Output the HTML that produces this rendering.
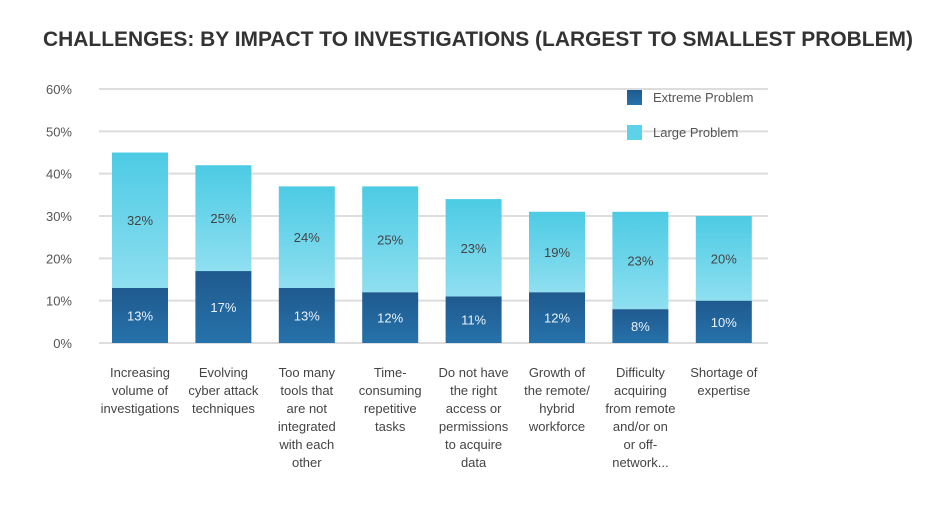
<!DOCTYPE html>
<html><head><meta charset="utf-8"><style>
body{margin:0;background:#fff;}
svg text{font-family:"Liberation Sans",sans-serif;}
</style></head><body>
<svg width="943" height="511">
<defs>
<linearGradient id="lg" x1="0" y1="0" x2="0" y2="1"><stop offset="0" stop-color="#4ccbe4"/><stop offset="1" stop-color="#8fdff0"/></linearGradient>
<linearGradient id="eg" x1="0" y1="0" x2="0" y2="1"><stop offset="0" stop-color="#1f5a8e"/><stop offset="1" stop-color="#2672ab"/></linearGradient>
</defs>
<text x="43" y="46" font-size="21" font-weight="bold" fill="#333" textLength="870" lengthAdjust="spacingAndGlyphs">CHALLENGES: BY IMPACT TO INVESTIGATIONS (LARGEST TO SMALLEST PROBLEM)</text>
<g id="grid"></g><g id="bars"></g><g id="labels"></g>
<g>
<rect x="627" y="90" width="15" height="15" fill="url(#eg)"/>
<text x="653" y="102" font-size="13" fill="#555">Extreme Problem</text>
<rect x="627" y="125" width="15" height="15" fill="#5dd3ea"/>
<text x="653" y="137" font-size="13" fill="#555">Large Problem</text>
</g>
</svg>
<script>
const categories=[["Increasing","volume of","investigations"],["Evolving","cyber attack","techniques"],["Too many","tools that","are not","integrated","with each","other"],["Time-","consuming","repetitive","tasks"],["Do not have","the right","access or","permissions","to acquire","data"],["Growth of","the remote/","hybrid","workforce"],["Difficulty","acquiring","from remote","and/or on","or off-","network..."],["Shortage of","expertise"]];
const extreme=[13,17,13,12,11,12,8,10];
const large=[32,25,24,25,23,19,23,20];
const ticks=[0,10,20,30,40,50,60];
const NS="http://www.w3.org/2000/svg";
const y=v=>343-v*4.233;
const x=i=>112+i*83.4;
const bw=56;
function mk(t,a,p){const e=document.createElementNS(NS,t);for(const k in a)e.setAttribute(k,a[k]);p.appendChild(e);return e;}
const G=document.getElementById('grid'),B=document.getElementById('bars'),L=document.getElementById('labels');
ticks.forEach(t=>{
 const l=mk('line',{x1:99,x2:768,y1:y(t),y2:y(t),stroke:'#ddd','stroke-width':2},G);
 
 
 const tx=mk('text',{x:72,y:y(t)+5,'font-size':13,fill:'#555','text-anchor':'end'},G);tx.textContent=t+'%';
 
 
});
categories.forEach((c,i)=>{
 const e=extreme[i],l=large[i];
 const r1=mk('rect',{x:x(i),y:y(e),width:bw,height:y(0)-y(e),fill:'url(#eg)'},B);
 
 
 const r2=mk('rect',{x:x(i),y:y(e+l),width:bw,height:y(e)-y(e+l),fill:'url(#lg)'},B);
 
 
 const t1=mk('text',{x:x(i)+bw/2,y:(y(0)+y(e))/2+5,'font-size':13,fill:'#e8f2fa','text-anchor':'middle'},B);t1.textContent=e+'%';
 
 
 const t2=mk('text',{x:x(i)+bw/2,y:(y(e)+y(e+l))/2+5,'font-size':13,fill:'#444','text-anchor':'middle'},B);t2.textContent=l+'%';
 
 
 const ct=mk('text',{'font-size':13,fill:'#444','text-anchor':'middle'},L);
 
 
 c.forEach((s,j)=>{const ts=mk('tspan',{x:x(i)+bw/2,y:377+j*18},ct);ts.textContent=s;});
});
</script>
</body></html>
